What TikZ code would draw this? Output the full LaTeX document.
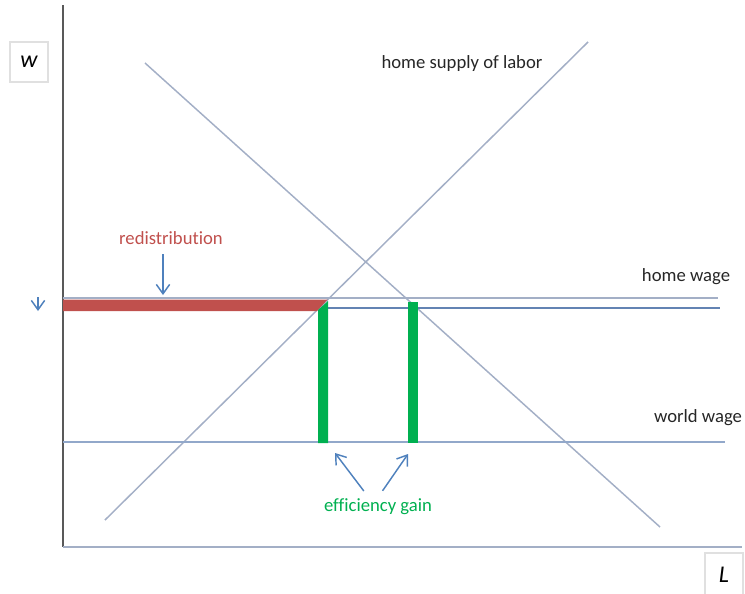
\documentclass[tikz,border=0pt]{standalone}
\usepackage{fontspec}
\setmainfont{Carlito}[Ligatures=NoCommon]
\usetikzlibrary{arrows.meta}
\definecolor{redistRed}{HTML}{C0504D}
\definecolor{gainGreen}{HTML}{00B050}
\definecolor{arrBlue}{HTML}{4F81BD}
\definecolor{curveGray}{HTML}{A3AFC6}
\definecolor{wageBlue}{HTML}{6383B3}
\definecolor{axisGray}{HTML}{595959}

\begin{document}
\begin{tikzpicture}[x=0.75pt,y=-0.75pt,
  curve/.style={draw=curveGray,line width=1.1pt},
  wage/.style={draw=wageBlue,line width=1pt},
  lbl/.style={font=\fontsize{14}{16}\selectfont,text=black!85,inner sep=1pt},
  axlbl/.style={draw=black!12,line width=0.8pt,minimum width=28.5pt,minimum height=30pt,font=\fontsize{18}{20}\selectfont\itshape},
  arr/.style={-{Straight Barb[length=7pt,width=10pt]},draw=arrBlue,line width=1.1pt}
]
\useasboundingbox (0,0) rectangle (745,593);
% axis boxes
\node[axlbl] (wBox) at (29,62) {w};
\node[axlbl,minimum height=33pt] (LBox) at (724,575) {L};
% axes
\coordinate (O) at (63,547);
\draw[axisGray,line width=1.3pt] (63,5) -- (O);
\draw[curveGray,line width=1.3pt] (O) -- (742,547);
% demand and supply
\draw[curve] (145,63) -- (660,527);
\draw[curve] (105,520) -- (588,42);
% wage lines
\draw[curve] (63,298) -- (718,298);
\draw[wage] (325,308) -- (720,308);
\draw[wage,draw=wageBlue!70] (63,442) -- (725,442);
% areas
\fill[redistRed] (63,299.5) -- (327.5,299.5) -- (317,311) -- (63,311) -- cycle;
\fill[gainGreen] (318,310) -- (328,301) -- (328,443) -- (318,443) -- cycle;
\fill[gainGreen] (408,302) -- (418,302) -- (418,443) -- (408,443) -- cycle;
% labels
\node[lbl] (supplyLbl) at (462,64) {home supply of labor};
\node[lbl] (homeLbl) at (686,277) {home wage};
\node[lbl] (worldLbl) at (698,418) {world wage};
\node[lbl,text=redistRed] (redist) at (171,238) {redistribution};
\node[lbl,text=gainGreen] (gain) at (378,507) {efficiency gain};
% arrows
\coordinate (redistTip) at (163,295);
\coordinate (gainTipL) at (335,453);
\coordinate (gainTipR) at (408,454);
\coordinate (sideTail) at (38,297);
\coordinate (sideTip) at (38,311);
\draw[arr,shorten <=6pt] (redist.south -| redistTip) -- (redistTip);
\draw[arr,shorten <=6pt] ([xshift=-7pt]gain.north) -- (gainTipL);
\draw[arr,shorten <=6pt] ([xshift=0pt]gain.north) -- (gainTipR);
\draw[arr] (sideTail) -- (sideTip);
\end{tikzpicture}
\end{document}
